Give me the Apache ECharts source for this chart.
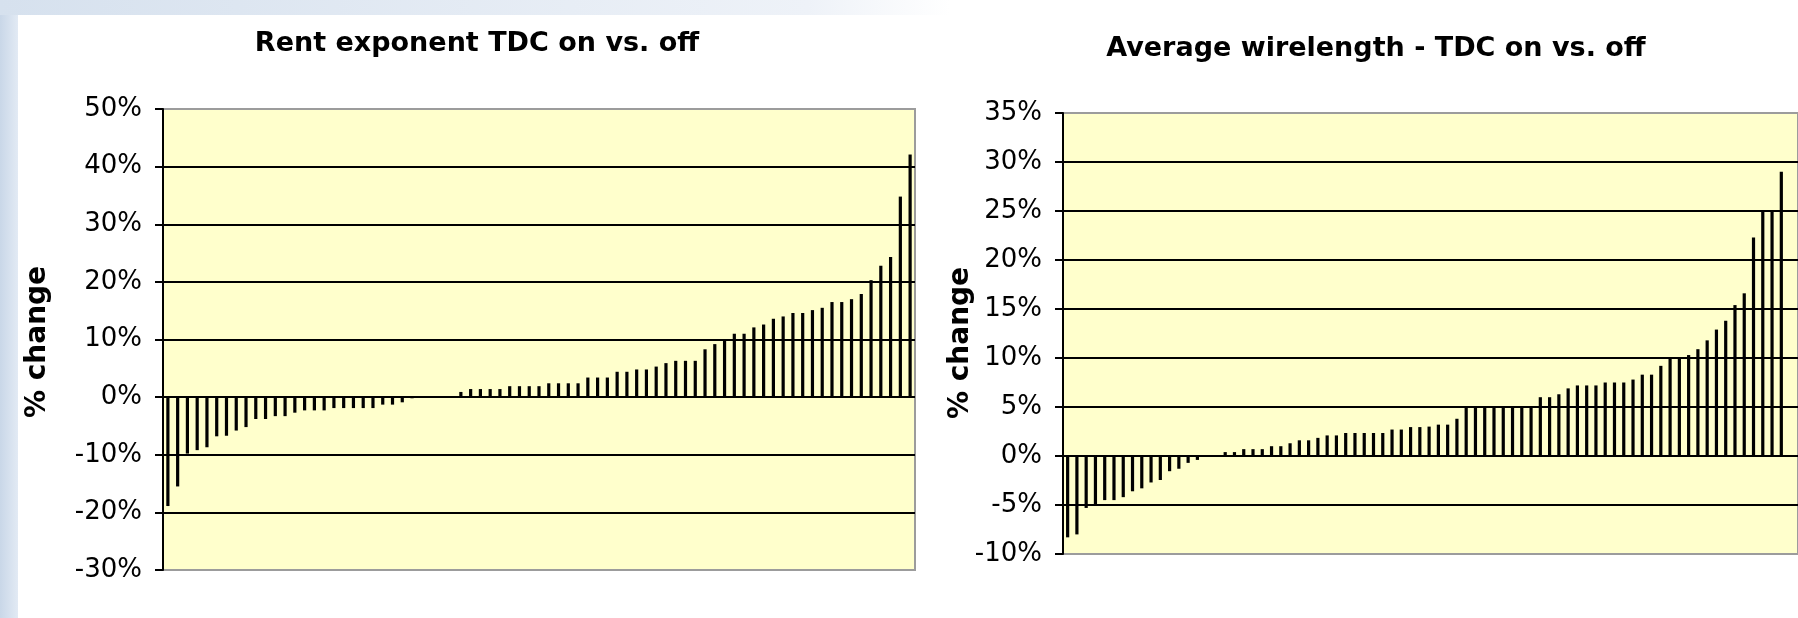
<!DOCTYPE html>
<html>
<head>
<meta charset="utf-8">
<script src="https://cdn.jsdelivr.net/npm/echarts@6/dist/echarts.min.js"></script>
<style>
  html, body { margin: 0; padding: 0; background: #ffffff; }
  #chart { width: 1798px; height: 618px; }
</style>
</head>
<body>
<div id="chart"></div>
<script>
// Titles and axis names
const rentTitle = 'Rent exponent TDC on vs. off';
const wireTitle = 'Average wirelength - TDC on vs. off';
const yName = '% change';

// Percent change per design, sorted ascending
const rentChange = [
  -18.9, -15.5, -9.8, -9.2, -8.7, -6.8, -6.7, -5.8, -5.2, -3.8,
  -3.8, -3.3, -3.3, -2.7, -2.3, -2.3, -2.3, -1.9, -1.9, -1.9,
  -1.9, -1.9, -1.3, -1.3, -0.9, -0.2, 0, 0, 0, 0,
  0.9, 1.4, 1.4, 1.4, 1.4, 1.9, 1.9, 1.9, 1.9, 2.4,
  2.4, 2.4, 2.4, 3.4, 3.4, 3.4, 4.4, 4.4, 4.8, 4.8,
  5.3, 5.9, 6.3, 6.3, 6.3, 8.3, 9.2, 10.0, 11.0, 11.0,
  12.1, 12.6, 13.6, 14.0, 14.6, 14.6, 15.1, 15.5, 16.5, 16.5,
  17.0, 17.9, 20.3, 22.8, 24.3, 34.8, 42.1
];

const wireChange = [
  -8.3, -8.0, -5.3, -4.9, -4.5, -4.5, -4.2, -3.6, -3.3, -2.7,
  -2.45, -1.55, -1.3, -0.7, -0.4, 0, 0, 0.4, 0.4, 0.7,
  0.7, 0.7, 1.0, 1.0, 1.3, 1.6, 1.6, 1.85, 2.1, 2.1,
  2.35, 2.35, 2.35, 2.35, 2.35, 2.7, 2.7, 2.95, 2.95, 3.0,
  3.2, 3.2, 3.8, 5.0, 5.0, 5.0, 5.0, 5.0, 5.0, 5.0,
  5.0, 6.0, 6.0, 6.3, 6.9, 7.2, 7.2, 7.2, 7.5, 7.5,
  7.5, 7.8, 8.3, 8.3, 9.2, 9.9, 9.9, 10.3, 10.9, 11.8,
  12.9, 13.8, 15.4, 16.6, 22.3, 25.0, 25.0, 29.0
];

// Y-axis tick values (percent)
const rentTicks = [-30, -20, -10, 0, 10, 20, 30, 40, 50];
const wireTicks = [-10, -5, 0, 5, 10, 15, 20, 25, 30, 35];

const plotFill = '#FFFFCC';
const frameGrey = '#9c9c9c';
const labelFont = 'DejaVu Sans';

// Outer gridlines coincide with the plot frame, so they take the frame colour
function gridLineColors(n) {
  const c = [];
  for (let i = 0; i < n; i++) c.push(i === 0 || i === n - 1 ? frameGrey : '#000000');
  return c;
}
// Each design sits in the middle of its own slot along x
function toPoints(arr) {
  return arr.map((v, i) => [i + 0.5, v]);
}

function yAxisFor(gridIndex, ticks) {
  return {
    gridIndex: gridIndex,
    type: 'value',
    min: ticks[0],
    max: ticks[ticks.length - 1],
    interval: ticks[1] - ticks[0],
    axisLine: { show: true, onZero: false, lineStyle: { color: '#000', width: 2 } },
    axisTick: { show: true, inside: false, length: 8, lineStyle: { color: '#000', width: 2 } },
    axisLabel: {
      formatter: '{value}%',
      fontFamily: labelFont,
      fontSize: 26,
      color: '#000',
      margin: 21
    },
    splitLine: { show: true, lineStyle: { color: gridLineColors(ticks.length), width: 2 } }
  };
}

const chart = echarts.init(document.getElementById('chart'), null, { renderer: 'canvas' });

const option = {
  animation: false,
  backgroundColor: '#ffffff',
  graphic: [
    {
      type: 'rect', z: -10, silent: true,
      shape: { x: 0, y: 0, width: 18, height: 618 },
      style: {
        fill: new echarts.graphic.LinearGradient(0, 0, 1, 0, [
          { offset: 0, color: '#c9d7e8' },
          { offset: 1, color: '#e2eaf4' }
        ])
      }
    },
    {
      type: 'rect', z: -10, silent: true,
      shape: { x: 0, y: 0, width: 950, height: 15 },
      style: {
        fill: new echarts.graphic.LinearGradient(0, 0, 1, 0, [
          { offset: 0, color: '#d6e1ee' },
          { offset: 0.85, color: '#eef2f8' },
          { offset: 1, color: '#ffffff' }
        ])
      }
    },
    {
      type: 'text', silent: true,
      x: 38, y: 342, rotation: Math.PI / 2,
      style: {
        text: yName, align: 'center', verticalAlign: 'middle',
        font: 'bold 28px "DejaVu Sans"', fill: '#000'
      }
    },
    {
      type: 'text', silent: true,
      x: 961, y: 343, rotation: Math.PI / 2,
      style: {
        text: yName, align: 'center', verticalAlign: 'middle',
        font: 'bold 28px "DejaVu Sans"', fill: '#000'
      }
    }
  ],
  title: [
    {
      text: rentTitle, left: 477, top: 30, textAlign: 'center', padding: 0,
      textStyle: { fontFamily: labelFont, fontWeight: 'bold', fontSize: 27, color: '#000' }
    },
    {
      text: wireTitle, left: 1376, top: 35, textAlign: 'center', padding: 0,
      textStyle: { fontFamily: labelFont, fontWeight: 'bold', fontSize: 27, color: '#000' }
    }
  ],
  grid: [
    { left: 163, top: 109, width: 752, height: 461, show: true,
      backgroundColor: plotFill, borderColor: frameGrey, borderWidth: 2 },
    { left: 1063, top: 113, width: 740, height: 441, show: true,
      backgroundColor: plotFill, borderColor: frameGrey, borderWidth: 2 }
  ],
  xAxis: [
    { gridIndex: 0, type: 'value', min: 0, max: rentChange.length, show: false },
    { gridIndex: 1, type: 'value', min: 0, max: 79.3, show: false }
  ],
  yAxis: [
    yAxisFor(0, rentTicks),
    yAxisFor(1, wireTicks)
  ],
  series: [
    {
      type: 'bar', xAxisIndex: 0, yAxisIndex: 0,
      data: toPoints(rentChange), barWidth: 3.2,
      itemStyle: { color: '#000' }, silent: true
    },
    {
      type: 'bar', xAxisIndex: 1, yAxisIndex: 1,
      data: toPoints(wireChange), barWidth: 3.2,
      itemStyle: { color: '#000' }, silent: true
    }
  ]
};

chart.setOption(option);
</script>
</body>
</html>
